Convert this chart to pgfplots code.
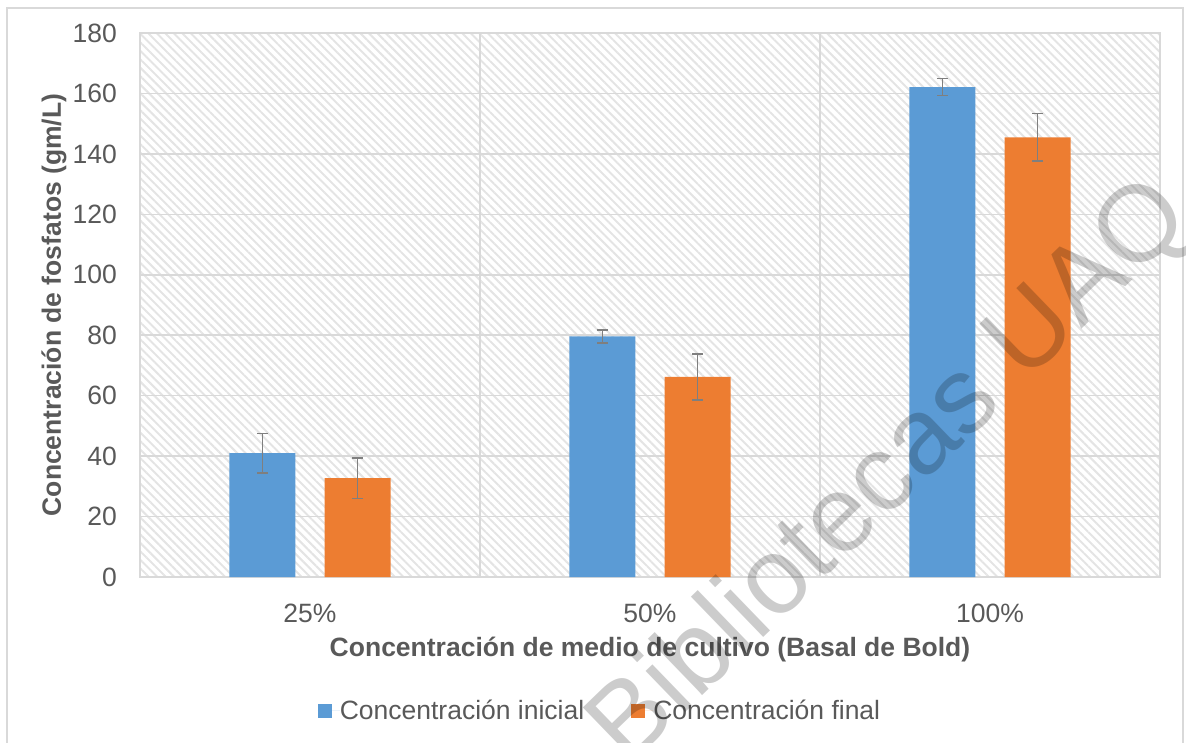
\documentclass[border=0pt]{standalone}
\usepackage{fontspec}
\setmainfont{Liberation Sans}
\usepackage{pgfplots}
\pgfplotsset{compat=1.18}
\usetikzlibrary{patterns.meta}
\definecolor{cblue}{HTML}{5B9BD5}
\definecolor{corange}{HTML}{ED7D31}
\definecolor{txt}{HTML}{595959}
\definecolor{gridc}{HTML}{D9D9D9}
\definecolor{hatchc}{HTML}{E4E4E4}
\definecolor{errc}{HTML}{7F7F7F}
\begin{document}
\begin{tikzpicture}[x=1pt,y=1pt]
\path[use as bounding box] (0,0) rectangle (1186,742);
\draw[gridc, line width=1.5pt] (7,-10) -- (7,734) -- (1183,734) -- (1183,-10);
\begin{axis}[
  at={(140pt,165pt)}, anchor=south west,
  width=1020pt, height=544pt, scale only axis,
  xmin=-0.5, xmax=2.5, ymin=0, ymax=180,
  xtick={0,1,2}, xticklabels={25\%,50\%,100\%},
  ytick={0,20,...,180},
  extra x ticks={0.5,1.5}, extra x tick labels={},
  extra x tick style={grid=major},
  ymajorgrids,
  grid style={gridc, line width=1.5pt},
  axis line style={gridc, line width=1.5pt},
  major tick length=0pt,
  axis background/.style={pattern={Lines[angle=-45,distance=6pt,line width=2pt]}, pattern color=hatchc},
  /pgf/number format/assume math mode=true,
  tick label style={font=\fontsize{26.5}{30}\selectfont, text=txt, inner sep=0pt},
  yticklabel shift=23pt,
  xticklabel shift=27pt,
  xlabel={Concentración de medio de cultivo (Basal de Bold)},
  ylabel={Concentración de fosfatos (gm/L)},
  label style={font=\bfseries\fontsize{26.5}{30}\selectfont, text=txt, inner sep=0pt},
  xlabel style={at={(axis description cs:0.5,-0.147)}, anchor=base},
  ylabel style={at={(axis description cs:-0.0775,0.5)}, anchor=base, rotate=0},
  legend columns=2,
  legend style={at={(axis description cs:0.45,-0.246)}, anchor=center, draw=none, fill=none,
    font=\fontsize{26.5}{30}\selectfont, text=txt,
    nodes={inner sep=0pt},
    /tikz/every even column/.append style={column sep=47pt}},
  legend image code/.code={\fill[#1] (0pt,-7pt) rectangle (14pt,7pt); \path (0pt,0pt) -- (22pt,0pt);},
]
\addplot[ybar, bar width=0.194, bar shift=0, fill=cblue, draw=none,
  error bars/.cd, y dir=both, y explicit,
  error bar style={errc, line width=1.6pt},
  error mark options={errc, line width=1.6pt, mark size=5.5pt, rotate=90}]
  coordinates {(-0.14,41.0) +- (0,6.5) (0.86,79.6) +- (0,2.2) (1.86,162.1) +- (0,2.8)};
\addlegendentry{Concentración inicial}
\addplot[ybar, bar width=0.194, bar shift=0, fill=corange, draw=none,
  error bars/.cd, y dir=both, y explicit,
  error bar style={errc, line width=1.6pt},
  error mark options={errc, line width=1.6pt, mark size=5.5pt, rotate=90}]
  coordinates {(0.14,32.7) +- (0,6.7) (1.14,66.2) +- (0,7.6) (2.14,145.5) +- (0,7.9)};
\addlegendentry{Concentración final}
\end{axis}
\node[rotate=44, anchor=north west, inner sep=0pt, font=\fontsize{108}{110}\selectfont, text=black, text opacity=0.2] at (574,31) {Bibliotecas UAQ};
\end{tikzpicture}
\end{document}
